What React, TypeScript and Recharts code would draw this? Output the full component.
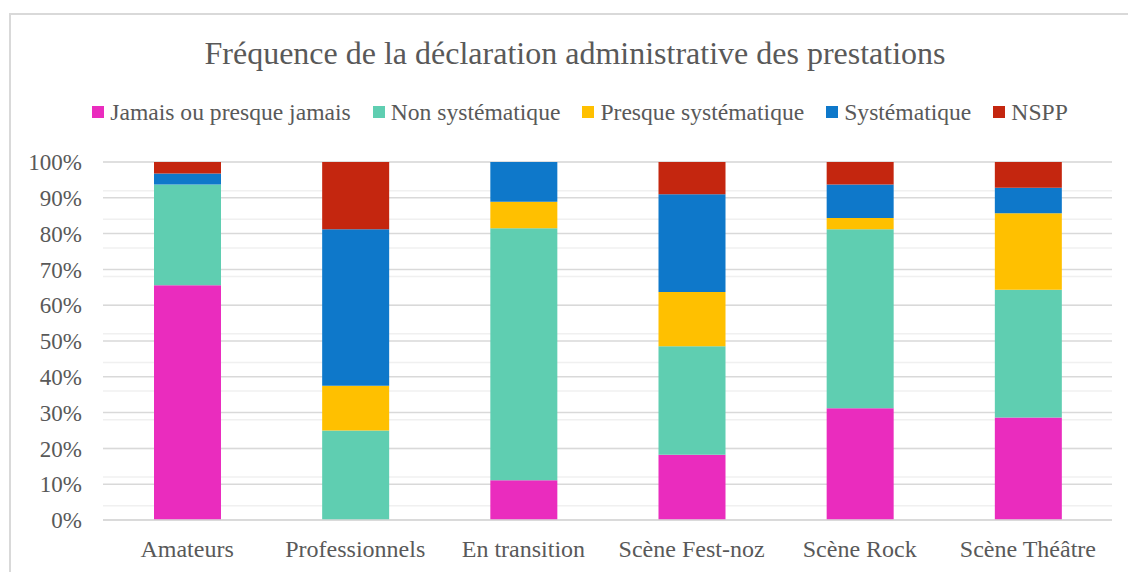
import React from 'react';
import { BarChart, Bar, XAxis, YAxis, CartesianGrid } from 'recharts';

const categories = ['Amateurs', 'Professionnels', 'En transition', 'Scène Fest-noz', 'Scène Rock', 'Scène Théâtre'];

const jamais = [65.6, 0, 11.1, 18.2, 31.25, 28.6];
const nonSystematique = [28.1, 25, 70.4, 30.3, 50, 35.7];
const presqueSystematique = [0, 12.5, 7.4, 15.2, 3.1, 21.4];
const systematique = [3.1, 43.75, 11.1, 27.3, 9.4, 7.1];
const nspp = [3.2, 18.75, 0, 9.1, 6.25, 7.2];

const yTicks = [0, 10, 20, 30, 40, 50, 60, 70, 80, 90, 100];
const minorTicks = [
  0, 2, 4, 6, 8, 10, 12, 14, 16, 18, 20, 22, 24, 26, 28, 30, 32, 34, 36, 38, 40, 42, 44, 46, 48, 50,
  52, 54, 56, 58, 60, 62, 64, 66, 68, 70, 72, 74, 76, 78, 80, 82, 84, 86, 88, 90, 92, 94, 96, 98, 100,
];

const series = [
  { key: 'Jamais ou presque jamais', values: jamais, color: '#EA2CBE' },
  { key: 'Non systématique', values: nonSystematique, color: '#5FCEB1' },
  { key: 'Presque systématique', values: presqueSystematique, color: '#FFC000' },
  { key: 'Systématique', values: systematique, color: '#0E78CA' },
  { key: 'NSPP', values: nspp, color: '#C4260F' },
];

const data = categories.map((name, i) => {
  const row: Record<string, string | number> = { name };
  series.forEach((s) => {
    row[s.key] = s.values[i];
  });
  return row;
});

const FONT = '"Liberation Serif", "Times New Roman", serif';
const TEXT = '#595959';

const App: React.FC = () => {
  return (
    <div style={{ position: 'absolute', left: 0, top: 0, width: 1128, height: 572, overflow: 'hidden', background: '#fff', fontFamily: FONT }}>
      <div
        style={{
          position: 'absolute',
          left: 9,
          top: 13,
          width: 1200,
          height: 700,
          borderLeft: '2px solid #d9d9d9',
          borderTop: '2px solid #d9d9d9',
        }}
      />
      <div
        style={{
          position: 'absolute',
          left: 0,
          width: 1150,
          top: 32,
          textAlign: 'center',
          fontSize: 32,
          color: TEXT,
          lineHeight: '42px',
        }}
      >
        Fréquence de la déclaration administrative des prestations
      </div>
      <div
        style={{
          position: 'absolute',
          left: 0,
          width: 1160,
          top: 97,
          display: 'flex',
          justifyContent: 'center',
          gap: 22,
          fontSize: 23.6,
          color: TEXT,
          lineHeight: '30px',
        }}
      >
        {series.map((s) => (
          <div key={s.key} style={{ display: 'flex', alignItems: 'center' }}>
            <span style={{ display: 'inline-block', width: 12, height: 12, background: s.color, marginRight: 6 }} />
            <span>{s.key}</span>
          </div>
        ))}
      </div>
      <div style={{ position: 'absolute', left: 0, top: 0 }}>
        <BarChart
          width={1128}
          height={572}
          data={data}
          margin={{ top: 162, right: 16, left: 0, bottom: 12 }}
          barSize={67}
        >
          <CartesianGrid vertical={false} yAxisId="minor" stroke="#f0f0f0" strokeWidth={1.5} />
          <CartesianGrid vertical={false} stroke="#d9d9d9" strokeWidth={1.5} />
          <XAxis
            dataKey="name"
            tickLine={false}
            axisLine={{ stroke: '#d9d9d9', strokeWidth: 1.5 }}
            height={40}
            tickMargin={14}
            tick={{ fill: TEXT, fontSize: 24, fontFamily: FONT }}
            interval={0}
          />
          <YAxis
            domain={[0, 100]}
            ticks={yTicks}
            tickFormatter={(v: number) => `${v}%`}
            width={103}
            tickLine={false}
            axisLine={false}
            tickMargin={15}
            tick={{ fill: TEXT, fontSize: 23, fontFamily: FONT }}
            allowDataOverflow
          />
          <YAxis yAxisId="minor" orientation="right" domain={[0, 100]} ticks={minorTicks} width={0} hide allowDataOverflow />
          {series.map((s) => (
            <Bar key={s.key} dataKey={s.key} stackId="a" fill={s.color} isAnimationActive={false} />
          ))}
        </BarChart>
      </div>
    </div>
  );
};

export default App;
